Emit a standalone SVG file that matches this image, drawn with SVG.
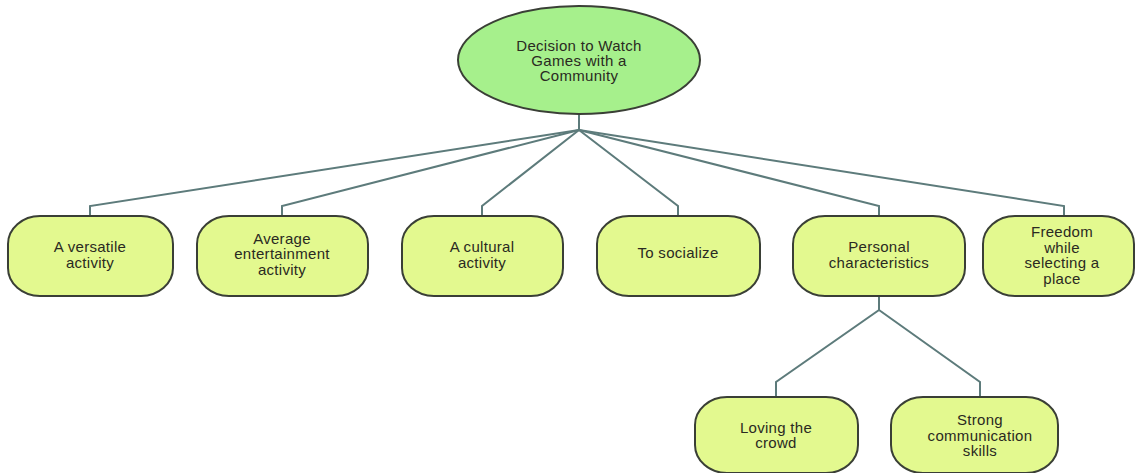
<svg xmlns="http://www.w3.org/2000/svg" width="1135" height="473" viewBox="0 0 1135 473">
<style>
.box{fill:#e3f98f;stroke:#3a3f36;stroke-width:2}
.root{fill:#a6f08c;stroke:#3a3f36;stroke-width:2}
.lbl{font-family:"Liberation Sans",Arial,sans-serif;font-size:15px;letter-spacing:0.3px;fill:#2a2a22;text-anchor:middle}
.con{fill:none;stroke:#5d7b7b;stroke-width:2}
</style>
<rect width="1135" height="473" fill="#ffffff"/>
<g id="connectors">
<path class="con" d="M579,114 V130"/>
<path class="con" d="M579,130 L90,206 V216"/>
<path class="con" d="M579,130 L282,206 V216"/>
<path class="con" d="M579,130 L482,206 V216"/>
<path class="con" d="M579,130 L678,206 V216"/>
<path class="con" d="M579,130 L879,206 V216"/>
<path class="con" d="M579,130 L1064,206 V216"/>
<path class="con" d="M879,296 V310 L776,382 V397"/>
<path class="con" d="M879,310 L980,382 V397"/>
</g>
<g id="root">
<ellipse class="root" cx="579" cy="60" rx="121" ry="54"/>
<text class="lbl" x="579" y="51">Decision to Watch</text>
<text class="lbl" x="579" y="66">Games with a</text>
<text class="lbl" x="579" y="81">Community</text>
</g>
<g id="n1">
<rect class="box" x="8" y="216" width="165" height="80" rx="32" ry="28"/>
<text class="lbl" x="90" y="252">A versatile</text>
<text class="lbl" x="90" y="268">activity</text>
</g>
<g id="n2">
<rect class="box" x="197" y="216" width="171" height="80" rx="32" ry="28"/>
<text class="lbl" x="282" y="244">Average</text>
<text class="lbl" x="282" y="259">entertainment</text>
<text class="lbl" x="282" y="275">activity</text>
</g>
<g id="n3">
<rect class="box" x="402" y="216" width="161" height="80" rx="32" ry="28"/>
<text class="lbl" x="482" y="252">A cultural</text>
<text class="lbl" x="482" y="268">activity</text>
</g>
<g id="n4">
<rect class="box" x="597" y="216" width="163" height="80" rx="32" ry="28"/>
<text class="lbl" x="678" y="258">To socialize</text>
</g>
<g id="n5">
<rect class="box" x="793" y="216" width="172" height="80" rx="32" ry="28"/>
<text class="lbl" x="879" y="252">Personal</text>
<text class="lbl" x="879" y="268">characteristics</text>
</g>
<g id="n6">
<rect class="box" x="983" y="216" width="151" height="80" rx="32" ry="28"/>
<text class="lbl" x="1062" y="237">Freedom</text>
<text class="lbl" x="1062" y="253">while</text>
<text class="lbl" x="1062" y="268">selecting a</text>
<text class="lbl" x="1062" y="284">place</text>
</g>
<g id="n7">
<rect class="box" x="695" y="397" width="163" height="76" rx="32" ry="28"/>
<text class="lbl" x="776" y="433">Loving the</text>
<text class="lbl" x="776" y="448">crowd</text>
</g>
<g id="n8">
<rect class="box" x="891" y="397" width="167" height="76" rx="32" ry="28"/>
<text class="lbl" x="980" y="425">Strong</text>
<text class="lbl" x="980" y="441">communication</text>
<text class="lbl" x="980" y="456">skills</text>
</g>
</svg>
